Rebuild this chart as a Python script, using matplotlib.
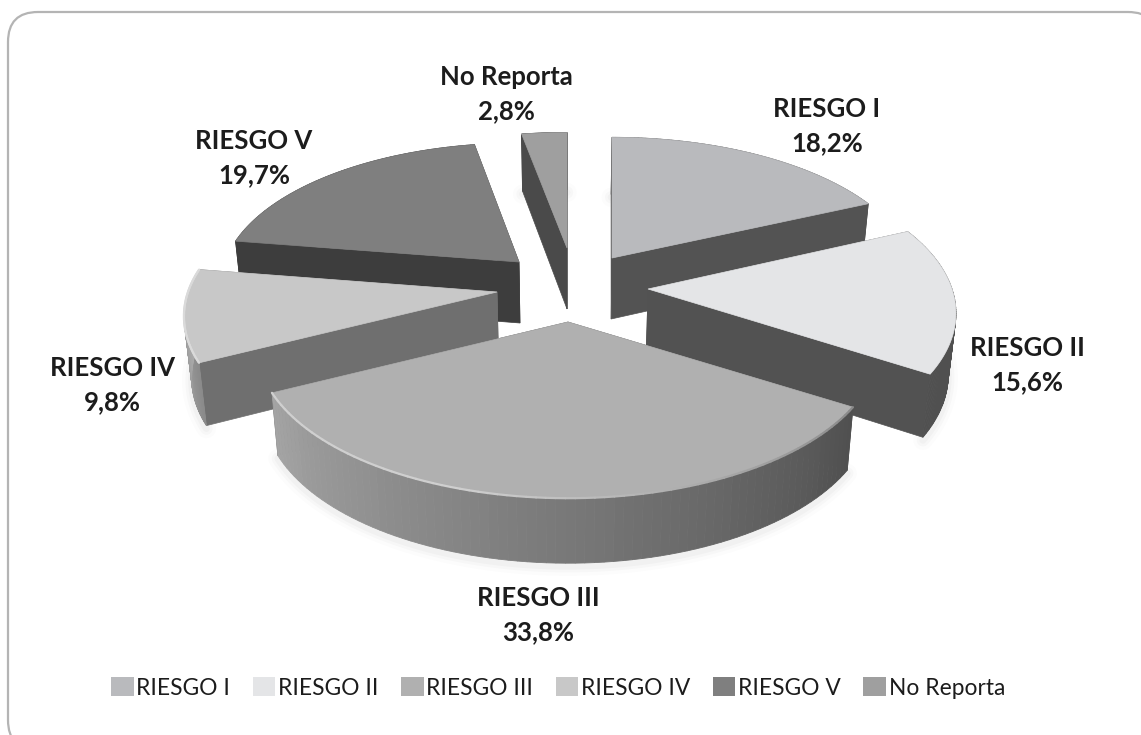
import numpy as np
import matplotlib
matplotlib.use("Agg")
import matplotlib.pyplot as plt
from matplotlib.patches import FancyBboxPatch, Patch

categories = ["RIESGO I", "RIESGO II", "RIESGO III", "RIESGO IV", "RIESGO V", "No Reporta"]
values = [18.2, 15.6, 33.8, 9.8, 19.7, 2.8]
value_labels = ["18,2%", "15,6%", "33,8%", "9,8%", "19,7%", "2,8%"]
top_colors = ["#b9babd", "#e4e5e7", "#b0b0b0", "#c8c8c8", "#7f7f7f", "#9f9f9f"]
cut_colors = ["#535353", "#525252", "#5a5a5a", "#6f6f6f", "#3d3d3d", "#4a4a4a"]
side_left = ["#535353", "#505050", "#a4a4a4", "#b8b8b8", "#3d3d3d", "#4a4a4a"]
side_right = ["#535353", "#505050", "#505050", "#8a8a8a", "#3d3d3d", "#4a4a4a"]

# layout: screen position of each slice's tip, back-to-front drawing order, label centres
tips = [(612, 258), (648, 289), (568, 322), (497, 292), (519, 262), (567, 248)]
scale_x = [300, 304, 307, 309, 294, 300]
scale_y = [140, 148, 148, 148, 138, 134]
draw_order = [5, 4, 0, 3, 1, 2]
label_pos = [(827, 126), (1027, 365), (538, 615), (112, 385), (254, 158), (506, 94)]
PERSP, DEPTH, CX = 0.16, 61.0, 568.0

plt.rcParams["font.family"] = ["Lato", "DejaVu Sans"]
fig = plt.figure(figsize=(11.41, 7.35), dpi=100)
ax = fig.add_axes([0, 0, 1, 1])
ax.set_xlim(0, 1141)
ax.set_ylim(735, 0)
ax.axis("off")

ax.add_patch(FancyBboxPatch((8, 12), 1150, 738, boxstyle="round,pad=0,rounding_size=30",
                            fc="white", ec="#b4b4b4", lw=1.6, zorder=0))


def project(theta, tip, sx, sy):
    s, c = np.sin(theta), np.cos(theta)
    w = 1 + PERSP * c
    return tip[0] + sx * s / w, tip[1] - sy * c / w


def lower(x, y, c=0.0):
    return CX + (x - CX) * 0.98, y + DEPTH - 4 * c


def mix(a, b, t):
    ca, cb = np.array(matplotlib.colors.to_rgb(a)), np.array(matplotlib.colors.to_rgb(b))
    return tuple(ca + (cb - ca) * t)


fractions = np.cumsum([0] + values) / sum(values) * 2 * np.pi
z = 2
for i in draw_order:
    a0, a1 = fractions[i], fractions[i + 1]
    th = np.linspace(a0, a1, 80)
    ax_x, ax_y = project(th, tips[i], scale_x[i], scale_y[i])
    bx, by_ = lower(ax_x, ax_y, np.cos(th))
    tx, ty = tips[i]
    ltx, lty = lower(tx, ty)

    # soft ground shadow
    for k, al in ((14, .012), (9, .018), (5, .025)):
        ax.plot(bx, by_ + 3, color="black", alpha=al, lw=k, zorder=z, solid_capstyle="round")

    # cut faces
    for idx in (0, -1):
        ex, ey = ax_x[idx], ax_y[idx]
        lx, ly = bx[idx], by_[idx]
        ax.fill([tx, ex, lx, ltx], [ty, ey, ly, lty], color=cut_colors[i], lw=.5, zorder=z)

    # outer wall, shaded along the arc
    for j in range(len(th) - 1):
        col = mix(side_right[i], side_left[i], j / (len(th) - 2))
        ax.fill([ax_x[j], ax_x[j + 1], bx[j + 1], bx[j]],
                [ax_y[j], ax_y[j + 1], by_[j + 1], by_[j]], color=col, lw=.6, zorder=z)

    # top surface
    ax.fill(np.r_[tx, ax_x], np.r_[ty, ax_y], color=top_colors[i], lw=.5, zorder=z)

    # bevel highlight on the rim of the large pale slices
    if i in (2, 3):
        for j in range(len(th) - 1):
            t = j / (len(th) - 2)
            col = mix("#8a8a8a", "#cfcfcf", min(1, t * 1.6)) if i == 2 else "#dadada"
            ax.plot(ax_x[j:j + 2], ax_y[j:j + 2], color=col, lw=1.6, zorder=z, solid_capstyle="round")
    z += 1

for name, lab, (x, y) in zip(categories, value_labels, label_pos):
    ax.text(x, y, f"{name}\n{lab}", ha="center", va="center", fontsize=18.5, fontweight="bold",
            color="#1c1c1c", linespacing=1.5, zorder=20)

handles = [Patch(fc=c, ec="none", label=n) for c, n in zip(top_colors, categories)]
ax.legend(handles=handles, ncol=6, loc="center", bbox_to_anchor=(558 / 1141, 1 - 688 / 735),
          frameon=False, fontsize=16.4, handlelength=1.0, handleheight=0.9, handletextpad=0.12,
          columnspacing=0.98, labelcolor="#1c1c1c", borderaxespad=0, borderpad=0)

fig.savefig("out.png", dpi=100)
